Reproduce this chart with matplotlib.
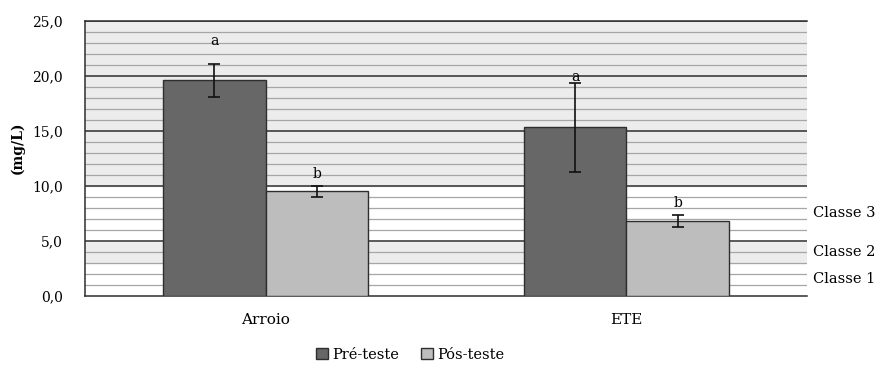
import matplotlib
matplotlib.use("Agg")
import matplotlib.pyplot as plt
import matplotlib.transforms as mtransforms
import numpy as np

categories = ["Arroio", "ETE"]
pre_teste = [19.6, 15.35]
pre_err = [1.5, 4.05]
pos_teste = [9.5, 6.8]
pos_err = [0.48, 0.52]
pre_letters = ["a", "a"]
pos_letters = ["b", "b"]

# class bands: (lower, upper, label)
classes = [(0, 3, "Classe 1"), (3, 5, "Classe 2"), (5, 10, "Classe 3")]

plt.rcParams['font.family'] = ['DejaVu Serif']

fig = plt.figure(figsize=(8.77, 3.67), dpi=100)
ax = fig.add_axes([0.097, 0.1935, 0.823, 0.7493])

# background shading
ax.axhspan(0, 3, color="white", zorder=0)
ax.axhspan(3, 5, color="#ececec", zorder=0)
ax.axhspan(5, 10, color="white", zorder=0)
ax.axhspan(10, 25, color="#ececec", zorder=0)

for yv in np.arange(1, 25, 1):
    if yv % 5 == 0:
        continue
    ax.axhline(yv, color="#a6a6a6", lw=0.9, zorder=1)
for yv in np.arange(5, 26, 5):
    ax.axhline(yv, color="#2e2e2e", lw=1.1, zorder=1)

x = np.arange(len(categories))
w = 0.285
b1 = ax.bar(x - w / 2, pre_teste, w, color="#676767", edgecolor="#2e2e2e", lw=1.0, zorder=3, label="Pré-teste")
b2 = ax.bar(x + w / 2, pos_teste, w, color="#bdbdbd", edgecolor="#2e2e2e", lw=1.0, zorder=3, label="Pós-teste")
ax.errorbar(x - w / 2, pre_teste, yerr=pre_err, fmt="none", ecolor="#111111", elinewidth=1.2, capsize=4, capthick=1.2, zorder=4)
ax.errorbar(x + w / 2, pos_teste, yerr=pos_err, fmt="none", ecolor="#111111", elinewidth=1.2, capsize=4, capthick=1.2, zorder=4)

ax.text(x[0] - w / 2, pre_teste[0] + pre_err[0] + 1.4, pre_letters[0], ha="center", va="bottom", fontsize=10, zorder=5)
ax.text(x[1] - w / 2, pre_teste[1] + pre_err[1] - 0.1, pre_letters[1], ha="center", va="bottom", fontsize=10, zorder=5)
for i in range(len(categories)):
    ax.text(x[i] + w / 2, pos_teste[i] + pos_err[i] + 0.5, pos_letters[i], ha="center", va="bottom", fontsize=10, zorder=5)

trans = mtransforms.blended_transform_factory(ax.transAxes, ax.transData)
for lo, hi, name in classes:
    ax.text(1.008, (lo + hi) / 2, name, transform=trans, ha="left", va="center", fontsize=10.5)

ax.set_xlim(-0.5, 1.5)
ax.set_ylim(0, 25)
ax.set_yticks(np.arange(0, 26, 5))
ax.set_yticklabels(["{:.1f}".format(v).replace(".", ",") for v in np.arange(0, 26, 5)], fontsize=10)
ax.set_xticks(x)
ax.set_xticklabels(categories, fontsize=11)
ax.tick_params(axis="both", length=0)
ax.tick_params(axis="x", pad=12)
ax.tick_params(axis="y", pad=16)
ax.set_ylabel("(mg/L)", fontsize=10, fontweight="bold")
ax.yaxis.set_label_coords(-0.084, 0.54)

ax.spines["right"].set_visible(False)
for s in ["top", "left", "bottom"]:
    ax.spines[s].set_color("#2e2e2e")
    ax.spines[s].set_linewidth(1.1)

fig.legend(handles=[b1, b2], loc="center", bbox_to_anchor=(0.468, 0.033), ncol=2, frameon=False,
           fontsize=10.5, handlelength=0.8, handleheight=0.8, handletextpad=0.3, columnspacing=1.5)

fig.savefig("out.png", dpi=100)
